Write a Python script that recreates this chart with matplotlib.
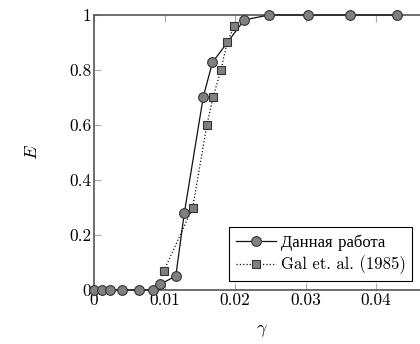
import matplotlib
matplotlib.use("Agg")
import matplotlib.pyplot as plt

# Данная работа
gamma_ours = [0.0, 0.0011, 0.0022, 0.0040, 0.0064, 0.0083, 0.0094, 0.0116, 0.0128,
              0.0155, 0.0168, 0.0213, 0.0248, 0.0303, 0.0363, 0.0430]
E_ours = [0.0, 0.0, 0.0, 0.0, 0.0, 0.0, 0.021, 0.051, 0.279,
          0.703, 0.828, 0.982, 1.0, 1.0, 1.0, 1.0]

# Gal et. al. (1985)
gamma_gal = [0.0099, 0.0140, 0.0160, 0.0169, 0.0180, 0.0189, 0.0199]
E_gal = [0.069, 0.30, 0.60, 0.703, 0.80, 0.903, 0.96]

xticks = [0, 0.01, 0.02, 0.03, 0.04]
xtick_labels = ["0", "0.01", "0.02", "0.03", "0.04"]
yticks = [0, 0.2, 0.4, 0.6, 0.8, 1]
ytick_labels = ["0", "0.2", "0.4", "0.6", "0.8", "1"]

plt.rcParams["font.family"] = ["cmr10", "Liberation Serif"]
plt.rcParams["mathtext.fontset"] = "cm"
plt.rcParams["axes.unicode_minus"] = False

fig = plt.figure(figsize=(4.2, 3.44), dpi=100)
ax = fig.add_axes([94 / 420, 54 / 344, 335 / 420, 275 / 344])

edge = "#333333"
ax.plot(gamma_ours, E_ours, "-", color="#111111", lw=0.9, marker="o", ms=7,
        mfc="#808080", mec=edge, mew=0.8, label="Данная работа", clip_on=False, zorder=3)
ax.plot(gamma_gal, E_gal, ":", color="#111111", lw=0.9, marker="s", ms=6.3,
        mfc="#808080", mec=edge, mew=0.8, label="Gal et. al. (1985)", clip_on=False, zorder=3)

ax.set_xlim(0, 0.0475)
ax.set_ylim(0, 1)
ax.set_xticks(xticks)
ax.set_xticklabels(xtick_labels)
ax.set_yticks(yticks)
ax.set_yticklabels(ytick_labels)
ax.tick_params(direction="in", length=5, width=0.8, color="#aaaaaa",
               top=True, right=True, labelsize=12.5, pad=2)
for s in ax.spines.values():
    s.set_color("#555555")
    s.set_linewidth(1.2)

ax.set_xlabel(r"$\gamma$", fontsize=13, labelpad=10)
ax.set_ylabel(r"$E$", fontsize=13, labelpad=21)

leg = ax.legend(loc="lower left", bbox_to_anchor=(229 / 420, 63 / 344),
                bbox_transform=fig.transFigure, fancybox=False, edgecolor="black",
                framealpha=1, fontsize=12, handlelength=2.4, handletextpad=0.3,
                borderpad=0.4, labelspacing=0.3, borderaxespad=0)
leg.get_frame().set_linewidth(0.8)

fig.savefig("out.png", dpi=100)
